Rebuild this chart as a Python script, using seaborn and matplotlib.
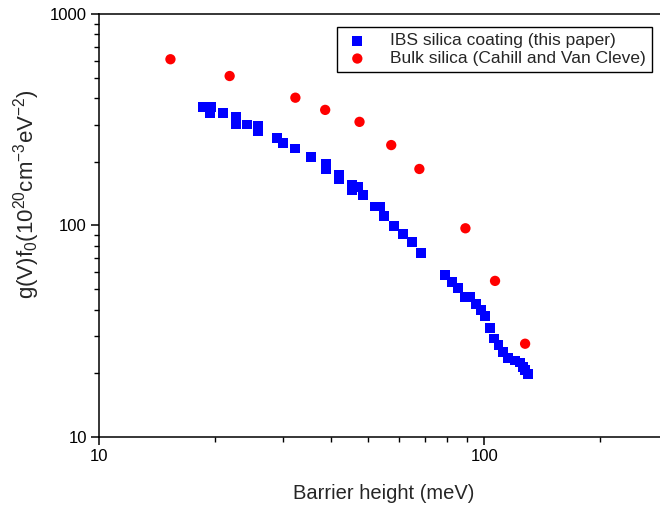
import matplotlib
matplotlib.use("Agg")
import matplotlib.pyplot as plt
import seaborn as sns
import pandas as pd
from matplotlib.ticker import LogLocator, NullFormatter, FixedLocator, FixedFormatter

sns.set_style("ticks")
plt.rcParams['font.family'] = ['Liberation Sans', 'DejaVu Sans']
plt.rcParams['mathtext.default'] = 'regular'

ibs_x = [18.6, 19.5, 19.4, 21.0, 22.6, 22.6, 24.2, 25.8, 25.8, 29.0, 30.0, 32.3,
         35.5, 38.8, 38.8, 42.0, 42.0, 45.3, 47.1, 45.3, 48.5, 52.0, 53.6, 55.0,
         58.3, 61.4, 64.8, 68.6, 79.1, 82.3, 85.6, 89.1, 91.8, 95.0, 97.9, 100.6,
         103.5, 106.2, 108.8, 111.6, 115.4, 120.1, 123.8, 125.8, 127.6, 129.7]
ibs_y = [364, 362, 339, 341, 325, 302, 300, 295, 280, 259, 245, 231,
         211, 195, 184, 173, 165, 155, 152, 147, 139, 123, 123, 111,
         99.5, 91.1, 83.3, 74.4, 58.3, 54.2, 50.5, 46.1, 45.8, 42.6, 39.9, 37.3,
         32.7, 29.2, 27.2, 25.3, 23.6, 23.0, 22.5, 21.5, 20.7, 19.9]

bulk_x = [15.3, 21.8, 32.3, 38.6, 47.4, 57.3, 67.8, 89.3, 106.6, 127.6]
bulk_y = [611, 509, 402, 352, 309, 240, 185, 97.0, 54.7, 27.6]

ibs_label = "IBS silica coating (this paper)"
bulk_label = "Bulk silica (Cahill and Van Cleve)"

x_ticks = [10, 100]
y_ticks = [10, 100, 1000]

df_ibs = pd.DataFrame({"x": ibs_x, "y": ibs_y})
df_bulk = pd.DataFrame({"x": bulk_x, "y": bulk_y})

fig = plt.figure(figsize=(6.6, 5.05), dpi=100)
ax = fig.add_axes([0.1505, 0.1347, 0.8617, 0.8376])

sns.scatterplot(data=df_ibs, x="x", y="y", ax=ax, marker="s", color="#0000ff",
                s=50, edgecolor="none", linewidth=0, label=ibs_label)
sns.scatterplot(data=df_bulk, x="x", y="y", ax=ax, marker="o", color="#ff0000",
                s=55, edgecolor="none", linewidth=0, label=bulk_label)

ax.set_xscale("log")
ax.set_yscale("log")
ax.set_xlim(10, 300)
ax.set_ylim(10, 1000)

ax.xaxis.set_major_locator(FixedLocator(x_ticks))
ax.xaxis.set_major_formatter(FixedFormatter([str(v) for v in x_ticks]))
ax.xaxis.set_minor_locator(LogLocator(base=10, subs=range(2, 10)))
ax.xaxis.set_minor_formatter(NullFormatter())
ax.yaxis.set_major_locator(FixedLocator(y_ticks))
ax.yaxis.set_major_formatter(FixedFormatter([str(v) for v in y_ticks]))
ax.yaxis.set_minor_locator(LogLocator(base=10, subs=range(2, 10)))
ax.yaxis.set_minor_formatter(NullFormatter())

for sp in ax.spines.values():
    sp.set_linewidth(1.1)
    sp.set_color("black")

ax.tick_params(which="major", direction="out", length=6, width=1.1, labelsize=12, colors="black", pad=3)
ax.tick_params(which="minor", direction="out", length=3.5, width=1.0, colors="black")

ax.set_xlabel("Barrier height (meV)", fontsize=14.5, labelpad=14)
ax.set_ylabel("g(V)f$_0$(10$^{20}$cm$^{-3}$eV$^{-2}$)", fontsize=16)
ax.yaxis.set_label_coords(-0.100, 0.575)

leg = ax.legend(loc="upper right", bbox_to_anchor=(0.972, 0.969), fontsize=12.5,
                frameon=True, fancybox=False, edgecolor="black", framealpha=1,
                borderpad=0.35, handletextpad=1.1, labelspacing=0.15, handlelength=1.6,
                borderaxespad=0, markerscale=1.0)
leg.get_frame().set_linewidth(1.0)

fig.savefig("out.png", dpi=100)
